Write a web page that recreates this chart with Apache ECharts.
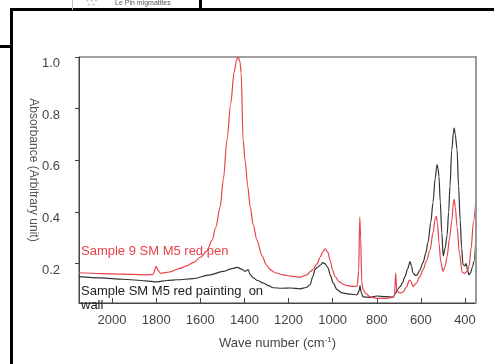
<!DOCTYPE html>
<html>
<head>
<meta charset="utf-8">
<script src="https://cdn.jsdelivr.net/npm/echarts@6/dist/echarts.min.js"></script>
<style>
  html, body { margin: 0; padding: 0; background: #fff; }
  #chart { width: 494px; height: 364px; }
</style>
</head>
<body>
<div id="chart"></div>
<script>
// wave numbers (cm-1) and absorbance
var penWave = [2150, 2050, 1950, 1850, 1815, 1800, 1792, 1780, 1740, 1700, 1660, 1630, 1600, 1570, 1547, 1530, 1510, 1495, 1479, 1462, 1447, 1435, 1428, 1420, 1415, 1406, 1397, 1385, 1374, 1360, 1343, 1320, 1300, 1284, 1260, 1225, 1190, 1148, 1116, 1100, 1089, 1070, 1057, 1045, 1034, 1022, 1012, 1000, 989, 970, 950, 935, 900, 889, 882, 877, 873, 868, 862, 850, 830, 800, 760, 730, 720, 714, 710, 700, 690, 681, 665, 652, 645, 636, 620, 605, 590, 575, 558, 545, 535, 530, 525, 518, 510, 500, 490, 481, 470, 459, 452, 449, 444, 436, 425, 413, 400, 390, 382, 372, 362, 350];
var penAbs = [0.165, 0.162, 0.160, 0.157, 0.158, 0.190, 0.175, 0.163, 0.168, 0.180, 0.192, 0.205, 0.225, 0.250, 0.290, 0.340, 0.420, 0.530, 0.680, 0.820, 0.940, 0.990, 1.000, 0.980, 0.940, 0.680, 0.600, 0.500, 0.420, 0.350, 0.290, 0.230, 0.195, 0.178, 0.165, 0.157, 0.152, 0.148, 0.157, 0.170, 0.178, 0.200, 0.225, 0.245, 0.258, 0.245, 0.215, 0.175, 0.150, 0.130, 0.120, 0.115, 0.112, 0.113, 0.170, 0.380, 0.300, 0.130, 0.100, 0.085, 0.072, 0.066, 0.066, 0.070, 0.075, 0.165, 0.100, 0.088, 0.087, 0.090, 0.110, 0.137, 0.132, 0.112, 0.125, 0.150, 0.177, 0.210, 0.254, 0.320, 0.375, 0.383, 0.360, 0.282, 0.210, 0.170, 0.190, 0.227, 0.300, 0.371, 0.440, 0.449, 0.420, 0.344, 0.240, 0.168, 0.163, 0.172, 0.188, 0.260, 0.360, 0.450];

var wallWave = [2150, 2050, 1950, 1850, 1796, 1750, 1705, 1633, 1556, 1497, 1460, 1433, 1410, 1397, 1388, 1383, 1375, 1361, 1340, 1316, 1290, 1270, 1230, 1193, 1148, 1120, 1102, 1090, 1080, 1071, 1055, 1044, 1035, 1021, 1010, 998, 980, 957, 920, 889, 880, 876, 871, 862, 830, 800, 760, 726, 715, 708, 694, 684, 672, 660, 649, 642, 636, 625, 617, 605, 590, 578, 568, 555, 545, 535, 527, 522, 518, 512, 505, 499, 490, 481, 474, 468, 460, 452, 449, 444, 436, 429, 422, 415, 409, 400, 395, 388, 382, 375, 365, 359, 350];
var wallAbs = [0.150, 0.145, 0.140, 0.134, 0.130, 0.135, 0.138, 0.142, 0.157, 0.170, 0.180, 0.186, 0.178, 0.170, 0.175, 0.177, 0.160, 0.146, 0.135, 0.126, 0.115, 0.107, 0.105, 0.106, 0.103, 0.108, 0.119, 0.150, 0.177, 0.185, 0.195, 0.204, 0.200, 0.184, 0.155, 0.126, 0.100, 0.087, 0.082, 0.080, 0.095, 0.115, 0.090, 0.072, 0.070, 0.075, 0.073, 0.070, 0.085, 0.099, 0.111, 0.125, 0.150, 0.180, 0.208, 0.190, 0.165, 0.155, 0.157, 0.175, 0.204, 0.240, 0.282, 0.360, 0.437, 0.530, 0.584, 0.570, 0.538, 0.440, 0.320, 0.230, 0.260, 0.310, 0.400, 0.500, 0.640, 0.710, 0.725, 0.700, 0.643, 0.500, 0.371, 0.260, 0.196, 0.192, 0.200, 0.175, 0.157, 0.165, 0.190, 0.210, 0.305];

var xTicks = [400, 600, 800, 1000, 1200, 1400, 1600, 1800, 2000];
var yTicks = [0.2, 0.4, 0.6, 0.8, 1.0];

function pairs(xs, ys) {
    return xs.map(function (x, i) { return [x, ys[i]]; });
}

var chart = echarts.init(document.getElementById('chart'));
var font = 'Liberation Sans, Arial, sans-serif';

chart.setOption({
    animation: false,
    backgroundColor: '#fff',
    grid: {
        left: 79, right: 18, top: 57, bottom: 61,
        show: true, borderColor: '#444', borderWidth: 1
    },
    xAxis: {
        type: 'value',
        inverse: true,
        min: 350,
        max: 2150,
        name: '{a|Wave number (cm}{s|-1}{a|)}',
        nameLocation: 'middle',
        nameGap: 33,
        nameTextStyle: {
            rich: {
                a: { fontFamily: font, fontSize: 13, color: '#444' },
                s: { fontFamily: font, fontSize: 8, color: '#444', verticalAlign: 'top', padding: [0, 0, 6, 0] }
            }
        },
        axisLine: { lineStyle: { color: '#444', width: 1 } },
        axisTick: { inside: true, length: 5, customValues: xTicks, lineStyle: { color: '#444' } },
        axisLabel: {
            customValues: xTicks, margin: 11, fontFamily: font, fontSize: 13, color: '#444',
            formatter: function (v) { return String(v); }
        },
        splitLine: { show: false }
    },
    yAxis: {
        type: 'value',
        min: 0.048,
        max: 1.0,
        axisLine: { show: true, lineStyle: { color: '#444', width: 1 } },
        axisTick: { show: true, length: 4, customValues: yTicks, lineStyle: { color: '#444' } },
        axisLabel: {
            customValues: yTicks,
            margin: 19,
            verticalAlign: 'top',
            fontFamily: font, fontSize: 13, color: '#444',
            formatter: function (v) { return v.toFixed(1); }
        },
        splitLine: { show: false }
    },
    series: [
        {
            name: 'Sample 9 SM M5 red pen',
            type: 'line',
            data: pairs(penWave, penAbs),
            showSymbol: false,
            smooth: 0.3,
            smoothMonotone: 'x',
            lineStyle: { color: '#e8434a', width: 1.2 },
            z: 3
        },
        {
            name: 'Sample SM M5 red painting on wall',
            type: 'line',
            data: pairs(wallWave, wallAbs),
            showSymbol: false,
            smooth: 0.3,
            smoothMonotone: 'x',
            lineStyle: { color: '#333', width: 1.2 },
            z: 2
        }
    ],
    graphic: [
        // right border of the plot box is a lighter grey
        { type: 'line', shape: { x1: 476, y1: 56, x2: 476, y2: 304 }, style: { stroke: '#999', lineWidth: 2 }, z: 10 },
        // y axis title
        {
            type: 'text', x: 33, y: 170, rotation: -Math.PI / 2,
            style: { text: 'Absorbance (Arbitrary unit)', font: '12px ' + font, fill: '#555', align: 'center', verticalAlign: 'middle' }
        },
        // curve annotations
        { type: 'text', left: 81, top: 245, style: { text: 'Sample 9 SM M5 red pen', font: '13px ' + font, fill: '#e8434a' }, z: 10 },
        { type: 'text', left: 81, top: 285, style: { text: 'Sample SM M5 red painting  on', font: '13px ' + font, fill: '#222' }, z: 10 },
        { type: 'text', left: 81, top: 299, style: { text: 'wall', font: '13px ' + font, fill: '#222' }, z: 10 },
        // page frame and neighbouring panel
        { type: 'line', shape: { x1: 10, y1: 9.5, x2: 494, y2: 9.5 }, style: { stroke: '#000', lineWidth: 3 }, z: 20 },
        { type: 'line', shape: { x1: 11.5, y1: 8, x2: 11.5, y2: 364 }, style: { stroke: '#000', lineWidth: 3 }, z: 20 },
        { type: 'line', shape: { x1: 0, y1: 46.5, x2: 11, y2: 46.5 }, style: { stroke: '#000', lineWidth: 3 }, z: 20 },
        { type: 'line', shape: { x1: 200.5, y1: 0, x2: 200.5, y2: 10 }, style: { stroke: '#000', lineWidth: 3 }, z: 20 },
        { type: 'line', shape: { x1: 72.5, y1: 0, x2: 72.5, y2: 10 }, style: { stroke: '#bbb', lineWidth: 1 }, z: 20 },
        { type: 'text', left: 86, top: -2, style: { text: '+ + +\n + +', font: '5px ' + font, fill: '#aaa', lineHeight: 4 }, z: 20 },
        { type: 'text', left: 115, top: 0, style: { text: 'Le Pin migmatites', font: '7px ' + font, fill: '#555' }, z: 20 }
    ]
});
</script>
</body>
</html>
